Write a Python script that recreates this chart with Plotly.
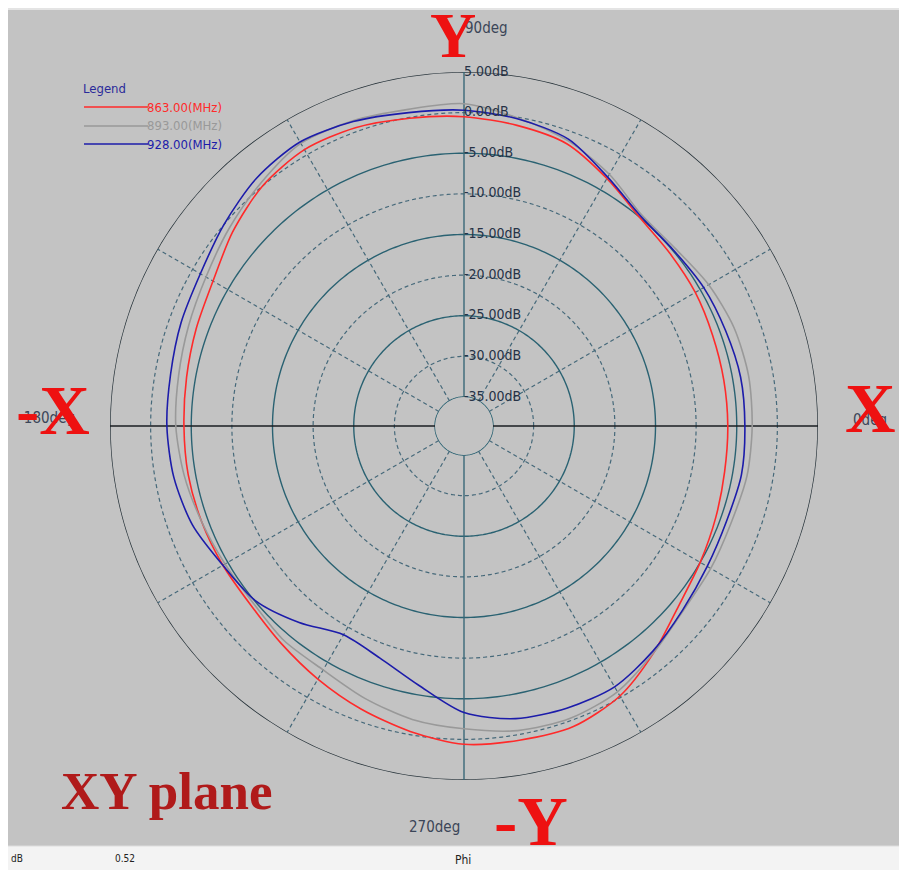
import plotly.graph_objects as go

# ---------------- data ----------------
phi_deg = [0, 10, 20, 30, 40, 50, 60, 70, 80, 90, 100, 110, 120, 130, 140, 150, 160, 170,
           180, 190, 200, 210, 220, 230, 240, 250, 260, 270, 280, 290, 300, 310, 320, 330, 340, 350]

gain_863 = [-6.1, -6.1, -6.0, -5.7, -5.5, -5.0, -3.4, -1.6, -1.0, -0.5, -0.1, 0.5, 0.7, 0.0, -1.4, -2.9, -3.5, -3.9,
            -4.1, -4.1, -4.2, -4.3, -4.3, -3.6, -2.6, -1.5, -0.4, 0.6, 0.7, 0.8, -0.2, -2.2, -4.1, -5.0, -5.6, -6.0]
gain_893 = [-3.1, -3.0, -3.2, -3.8, -4.6, -4.6, -2.8, -1.2, -0.1, 1.1, 1.0, 1.4, 1.6, 0.4, -0.8, -1.9, -2.5, -2.9,
            -3.1, -3.6, -4.2, -4.6, -4.7, -4.1, -3.9, -2.9, -1.9, -1.3, -0.5, -0.3, -0.8, -2.2, -3.3, -3.5, -3.6, -3.2]
gain_928 = [-4.0, -4.0, -4.3, -4.5, -4.9, -4.8, -3.2, -1.0, -0.2, 0.3, 0.6, 1.3, 1.8, 1.2, 0.0, -1.1, -1.5, -1.9,
            -2.0, -2.3, -3.0, -4.3, -5.1, -7.0, -8.9, -8.2, -6.2, -3.3, -2.0, -1.6, -1.5, -2.4, -3.4, -4.0, -4.2, -3.9]

series_names = ["863.00(MHz)", "893.00(MHz)", "928.00(MHz)"]
series_colors = ["#ff2a2a", "#999999", "#1c1caa"]

ring_levels = [5, 0, -5, -10, -15, -20, -25, -30, -35]
solid_rings = [-35, -25, -15, -5]
dashed_rings = [-30, -20, -10, 0]
outer_ring = [5]
dashed_spokes = [30, 60, 120, 150, 210, 240, 300, 330]
r_min, r_max = -35, 5

# the page body adds an 8px margin; the figure is sized to fit the window
OFF = 8
W, H = 907 - OFF, 870 - OFF


def px(x):
    return (x - OFF) / W


def py(y):
    return 1 - (y - OFF) / H


fig = go.Figure()

circle_theta = list(range(0, 361, 1))
dash_style = "4px,3px"

# grid rings
for lvl in dashed_rings:
    fig.add_trace(go.Scatterpolar(r=[lvl] * len(circle_theta), theta=circle_theta, mode="lines",
                                  line=dict(color="#46697a", width=1.2, dash=dash_style),
                                  hoverinfo="skip", showlegend=False))
for lvl in solid_rings:
    fig.add_trace(go.Scatterpolar(r=[lvl] * len(circle_theta), theta=circle_theta, mode="lines",
                                  line=dict(color="#2a6272", width=1.4),
                                  hoverinfo="skip", showlegend=False))
for lvl in outer_ring:
    fig.add_trace(go.Scatterpolar(r=[lvl] * len(circle_theta), theta=circle_theta, mode="lines",
                                  line=dict(color="#27333a", width=1.5),
                                  hoverinfo="skip", showlegend=False))

# spokes
for a in dashed_spokes:
    fig.add_trace(go.Scatterpolar(r=[r_min, r_max], theta=[a, a], mode="lines",
                                  line=dict(color="#46697a", width=1.2, dash=dash_style),
                                  hoverinfo="skip", showlegend=False))
for a in [90, 270]:
    fig.add_trace(go.Scatterpolar(r=[r_min, r_max], theta=[a, a], mode="lines",
                                  line=dict(color="#3a6878", width=1.4),
                                  hoverinfo="skip", showlegend=False))
for a in [0, 180]:
    fig.add_trace(go.Scatterpolar(r=[r_min, r_max], theta=[a, a], mode="lines",
                                  line=dict(color="#1a1e22", width=1.5),
                                  hoverinfo="skip", showlegend=False))

# data curves
for name, vals, col in zip(series_names, [gain_863, gain_893, gain_928], series_colors):
    fig.add_trace(go.Scatterpolar(r=vals + [vals[0]], theta=phi_deg + [360], mode="lines",
                                  name=name, line=dict(color=col, width=1.6, shape="spline", smoothing=0.8),
                                  showlegend=False))

narrow = "Liberation Sans Narrow, DejaVu Sans Condensed, sans-serif"
serif = "Liberation Serif, DejaVu Serif, serif"

# radial tick labels
fig.add_trace(go.Scatterpolar(r=ring_levels, theta=[90] * len(ring_levels), mode="text",
                              text=[f"{v:.2f}dB" for v in ring_levels], textposition="middle right",
                              textfont=dict(family=narrow, size=14, color="#263246"),
                              hoverinfo="skip", showlegend=False))

hole_frac = 29 / 354
fig.update_layout(
    width=W, height=H,
    margin=dict(l=0, r=0, t=0, b=0),
    paper_bgcolor="#c3c3c3",
    plot_bgcolor="#c3c3c3",
    polar=dict(
        domain=dict(x=[px(110), px(818)], y=[py(780), py(72)]),
        bgcolor="rgba(0,0,0,0)",
        hole=hole_frac,
        radialaxis=dict(range=[r_min, r_max], showgrid=False, showline=False, showticklabels=False, ticks=""),
        angularaxis=dict(rotation=0, direction="counterclockwise", showgrid=False, showline=False,
                         showticklabels=False, ticks=""),
    ),
)

shapes = [
    dict(type="rect", xref="paper", yref="paper", x0=0, x1=1, y0=py(10), y1=1,
         fillcolor="#e4e4e4", line=dict(width=0), layer="below"),
    dict(type="rect", xref="paper", yref="paper", x0=0, x1=1, y0=0, y1=py(846),
         fillcolor="#f3f3f3", line=dict(width=0), layer="below"),
    dict(type="line", xref="paper", yref="paper", x0=0, x1=1, y0=py(846), y1=py(846),
         line=dict(color="#dddddd", width=1)),
]
# legend lines
legend_y = [107, 126, 144]
for yy, col in zip(legend_y, series_colors):
    shapes.append(dict(type="line", xref="paper", yref="paper", x0=px(84), x1=px(148), y0=py(yy), y1=py(yy),
                       line=dict(color=col, width=1.5)))
fig.update_layout(shapes=shapes)

ann = []


def add_text(x, y, text, size, color, family=narrow, xanchor="left", bold=False):
    t = f"<b>{text}</b>" if bold else text
    ann.append(dict(x=px(x), y=py(y), xref="paper", yref="paper", text=t, showarrow=False,
                    xanchor=xanchor, yanchor="middle", font=dict(family=family, size=size, color=color)))


add_text(81, 89, "Legend", 13, "#2a2a9a")
for yy, name, col in zip(legend_y, series_names, series_colors):
    add_text(145, yy, name, 13, col)

# angular labels
add_text(463, 28, "90deg", 15, "#3b4658")
add_text(407, 827, "270deg", 15, "#3b4658")
add_text(851, 420, "0deg", 15, "#3b4658")
add_text(17, 418, "-180deg", 15, "#3b4658")

# status bar
add_text(9, 858, "dB", 10, "#222222")
add_text(113, 858, "0.52", 10, "#222222")
add_text(453, 860, "Phi", 12, "#222222")

# big axis letters
add_text(453, 36, "Y", 64, "#ee1111", family=serif, xanchor="center", bold=True)
add_text(53, 410, "-X", 70, "#ee1111", family=serif, xanchor="center", bold=True)
add_text(870, 409, "X", 70, "#ee1111", family=serif, xanchor="center", bold=True)
add_text(531, 821, "-Y", 70, "#ee1111", family=serif, xanchor="center", bold=True)
add_text(167, 791, "XY plane", 53, "#b01a1a", family=serif, xanchor="center", bold=True)

fig.update_layout(annotations=ann)

fig.write_html("out.html")
